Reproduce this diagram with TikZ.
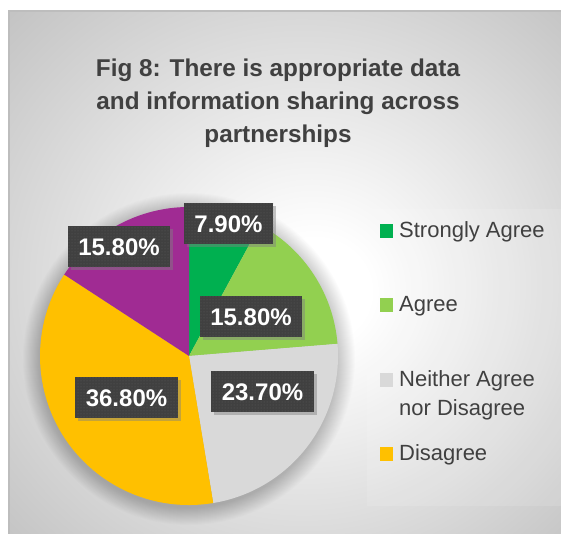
\documentclass[tikz,border=0pt]{standalone}
\usepackage{fontspec}
\setmainfont{Liberation Sans}
\usetikzlibrary{shadows,patterns}
\definecolor{sagree}{HTML}{00B050}
\definecolor{agree}{HTML}{92D050}
\definecolor{neither}{HTML}{D9D9D9}
\definecolor{disagree}{HTML}{FFC000}
\definecolor{sdis}{HTML}{A02B93}
\definecolor{boxdark}{HTML}{404040}
\definecolor{txtdark}{HTML}{404040}
\definecolor{bgouter}{HTML}{C4C4C4}
\definecolor{frame}{HTML}{BDBDBD}
\pgfdeclareradialshading{bgshade}{\pgfpoint{3bp}{-2bp}}{color(0bp)=(white); color(5bp)=(white); color(36bp)=(bgouter); color(50bp)=(bgouter)}
\tikzset{
  lbl/.style={fill=boxdark, text=white, font=\bfseries\fontsize{24}{24}\selectfont,
    inner xsep=10.5pt, inner ysep=0pt, minimum height=41pt,
    drop shadow={shadow xshift=3pt, shadow yshift=-3pt, opacity=0.45},
    postaction={pattern=dots, pattern color=boxdark!85!white}},
  ttl/.style={font=\bfseries\fontsize{24.3}{24}\selectfont, text=txtdark, anchor=base, inner sep=0pt},
  legtxt/.style={font=\fontsize{22}{22}\selectfont, text=txtdark, anchor=base west, inner sep=0pt},
  legsq/.style={minimum size=13.5pt, inner sep=0pt, anchor=south west}
}
\begin{document}
\begin{tikzpicture}[x=1pt,y=1pt]
\useasboundingbox (0,0) rectangle (561,534);
% background
\fill[white] (0,0) rectangle (561,534);
\shade[shading=bgshade] (9,0) rectangle (561,523);
\draw[frame, line width=1.2pt] (9,0) -- (9,523) -- (561,523);
% legend panel
\fill[white, opacity=0.12] (367,28) rectangle (561,325);
% title
\node[ttl] (title1) at (278,457) {Fig 8: There is appropriate data};
\node[ttl] (title2) at (278,424) {and information sharing across};
\node[ttl] (title3) at (278,391) {partnerships};
% pie
\coordinate (c) at (189,178);
\coordinate (cs) at (189,175);
\foreach \r in {149,150,...,166}
  \fill[black, opacity=0.011] (cs) circle[radius=\r];
\fill[sagree] (c) -- ++(90:149) arc[start angle=90, end angle=61.56, radius=149] -- cycle;
\fill[agree] (c) -- ++(61.56:149) arc[start angle=61.56, end angle=4.68, radius=149] -- cycle;
\fill[neither] (c) -- ++(4.68:149) arc[start angle=4.68, end angle=-80.64, radius=149] -- cycle;
\fill[disagree] (c) -- ++(-80.64:149) arc[start angle=-80.64, end angle=-213.12, radius=149] -- cycle;
\fill[sdis] (c) -- ++(146.88:149) arc[start angle=146.88, end angle=90, radius=149] -- cycle;
% labels
\node[lbl] (l1) at (228.5,310) {7.90\%};
\node[lbl] (l2) at (251,217) {15.80\%};
\node[lbl] (l3) at (262.5,142) {23.70\%};
\node[lbl] (l4) at (126.5,136) {36.80\%};
\node[lbl] (l5) at (119,287) {15.80\%};
% legend
\node[legsq, fill=sagree] (s1) at (379.5,296) {};
\node[legtxt] (t1) at (399,296) {Strongly Agree};
\node[legsq, fill=agree] (s2) at (379.5,222) {};
\node[legtxt] (t2) at (399,222) {Agree};
\node[legsq, fill=neither] (s3) at (379.5,147) {};
\node[legtxt] (t3) at (399,147) {Neither Agree};
\node[legtxt] (t3b) at (399,118) {nor Disagree};
\node[legsq, fill=disagree] (s4) at (379.5,73) {};
\node[legtxt] (t4) at (399,73) {Disagree};
\end{tikzpicture}
\end{document}
